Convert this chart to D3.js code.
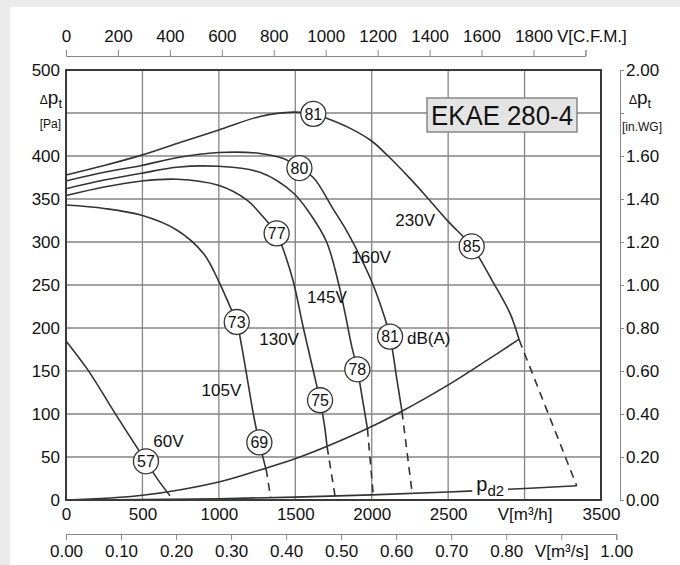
<!DOCTYPE html>
<html><head><meta charset="utf-8">
<script src="https://cdn.jsdelivr.net/npm/d3@7"></script>
<style>
body{margin:0;background:#ebebeb}
text{font-family:'Liberation Sans',Arial,Helvetica,sans-serif;fill:#111}
</style>
</head><body><svg id="c" width="680" height="565"></svg>
<script>
// ---------- data ----------
// fan curves: [flow m3/h, total pressure Pa]
const curve230 = [[0,378],[250,389],[495,401],[750,416],[995,430],[1270,446],[1487,451],[1618,449],[1705,444],[1850,433],[1995,418],[2107,400],[2250,374],[2337,357],[2500,324],[2654,295],[2785,256],[2905,217],[2965,186]];
const curve160 = [[0,371],[250,381],[495,389],[724,398],[997,404],[1269,403],[1422,397],[1527,386],[1618,375],[1749,338],[1836,313],[1902,291],[2000,254],[2076,217],[2120,190],[2163,142],[2198,103]];
const curve145 = [[0,362],[250,372],[495,380],[724,387],[997,388],[1269,381],[1487,357],[1600,332],[1705,300],[1780,254],[1828,215],[1870,178],[1906,152],[1937,120],[1972,83]];
const curve130 = [[0,354],[250,364],[495,371],[724,373],[997,366],[1182,349],[1291,329],[1378,310],[1422,291],[1487,254],[1553,200],[1618,150],[1662,116],[1690,88],[1708,62]];
const curve105 = [[0,343],[250,339],[495,331],[724,314],[898,287],[1000,254],[1073,225],[1117,207],[1150,178],[1187,140],[1233,93],[1265,67],[1309,35]];
const curve60  = [[0,185],[144,151],[320,101],[523,45],[600,24],[680,5]];
// dashed continuations down to the pd2 line
const dash230 = [[2965,186],[3341,16.6]];
const dash160 = [[2198,103],[2265,7.6]];
const dash145 = [[1972,83],[2010,6]];
const dash130 = [[1708,62],[1760,4.6]];
const dash105 = [[1309,36],[1339,2.7]];
// system (installation) curve and dynamic pressure pd2
const systemCurve = [[0,0],[500,5.5],[1000,21],[1269,35],[1531,50],[1923,79],[2185,102],[2512,135],[2750,162],[2965,187]];
const pd2Curve = [[0,0],[500,0.4],[1000,1.5],[1500,3.4],[2000,6],[2500,9.3],[3000,13.4],[3341,16.6]];
// sound level markers [flow, pressure, dB(A)]
const noiseMarks = [[1618,449,"81"],[2654,295,"85"],[1527,386,"80"],[2120,190,"81"],[1906,152,"78"],[1378,310,"77"],[1662,116,"75"],[1117,207,"73"],[1265,67,"69"],[523,45,"57"]];
// voltage labels [text, flow, pressure] (centre)
const voltLabels = [["230V",2284,326],["160V",1996,283],["145V",1707,236],["130V",1394,187],["105V",1017,128],["60V",670,69]];
const dbaLabel = ["dB(A)",2231,189];
const pd2Label = [2775,11];
// axes ticks
const flowTicks = [0,500,1000,1500,2000,2500,3000,3500];
const pressTicks = [0,50,100,150,200,250,300,350,400,500];
const gridFlow = [500,1000,1500,2000,2500,3000];
const gridPress = [50,100,150,200,250,300,350,400,450];
const cfmTicks = [0,200,400,600,800,1000,1200,1400,1600,1800,2000];
const m3sTicks = [0,0.1,0.2,0.3,0.4,0.5,0.6,0.7,0.8,0.9,1.0];
const inwgTicks = [0,0.2,0.4,0.6,0.8,1.0,1.2,1.4,1.6,1.8,2.0];
const title = "EKAE 280-4";
const CFM_M3H = 1.699;

// ---------- drawing ----------
const svg = d3.select("#c");
svg.append("rect").attr("x",10).attr("y",7).attr("width",670).attr("height",558).attr("fill","#fff");

const x = d3.scaleLinear().domain([0,3500]).range([66,601]);
const y = d3.scaleLinear().domain([0,500]).range([500,70]);
const xCfm = d3.scaleLinear().domain([0,2000]).range([x(0), x(2000*CFM_M3H)]);
const xM3s = d3.scaleLinear().domain([0,1]).range([x(0), x(3600)]);
const yIn = d3.scaleLinear().domain([0,2]).range([y(0), y(500)]);
const FS = 17;

// grid
const grid = svg.append("g").attr("stroke","#858585").attr("stroke-width",1.3);
grid.selectAll("line.v").data(gridFlow).join("line")
  .attr("x1",d=>x(d)).attr("x2",d=>x(d)).attr("y1",y(0)).attr("y2",y(500));
grid.selectAll("line.h").data(gridPress).join("line").attr("class","h")
  .attr("x1",x(0)).attr("x2",x(3500)).attr("y1",d=>y(d)).attr("y2",d=>y(d));

const lineGen = d3.line().x(d=>x(d[0])).y(d=>y(d[1])).curve(d3.curveCatmullRom.alpha(0.5));
const curves = svg.append("g").attr("fill","none").attr("stroke","#333").attr("stroke-width",1.6);
[curve230,curve160,curve145,curve130,curve105,curve60,systemCurve,pd2Curve].forEach(c=>{
  curves.append("path").attr("d",lineGen(c));
});
[dash230,dash160,dash145,dash130,dash105].forEach(c=>{
  curves.append("path").attr("d",lineGen(c)).attr("stroke-dasharray","8,6");
});

// frame
svg.append("rect").attr("x",x(0)).attr("y",y(500)).attr("width",x(3500)-x(0)).attr("height",y(0)-y(500))
  .attr("fill","none").attr("stroke","#3a3a3a").attr("stroke-width",2);

function styleAxis(g, keepDomain){
  g.selectAll("text").attr("font-size",FS).attr("fill","#111")
   .style("font-family","'Liberation Sans',Arial,sans-serif");
  g.selectAll("line").attr("stroke","#888");
  if(keepDomain) g.select(".domain").attr("stroke","#888"); else g.select(".domain").remove();
}
// top CFM axis
const gTop = svg.append("g").attr("transform","translate(0,56)")
  .call(d3.axisTop(xCfm).tickValues(cfmTicks).tickSize(6).tickPadding(8)
    .tickFormat(d=>d===2000?"V[C.F.M.]":String(d)));
styleAxis(gTop,true);
gTop.selectAll(".tick text").filter(d=>d===2000).attr("text-anchor","start").attr("x",-29);
// bottom m3/h labels
const gB = svg.append("g").attr("transform",`translate(0,${y(0)})`)
  .call(d3.axisBottom(x).tickValues(flowTicks).tickSize(0).tickPadding(8)
    .tickFormat(d=>d===3000?"V[m³/h]":String(d)));
styleAxis(gB,false);
// left Pa labels
const gL = svg.append("g").attr("transform",`translate(${x(0)},0)`)
  .call(d3.axisLeft(y).tickValues(pressTicks).tickSize(0).tickPadding(6));
styleAxis(gL,false);
// bottom m3/s axis
const gS = svg.append("g").attr("transform","translate(0,534)")
  .call(d3.axisBottom(xM3s).tickValues(m3sTicks).tickSize(6).tickPadding(5)
    .tickFormat(d=>Math.abs(d-0.9)<1e-6?"V[m³/s]":d.toFixed(2)));
styleAxis(gS,true);
// right in.WG axis
const gR = svg.append("g").attr("transform","translate(620,0)")
  .call(d3.axisRight(yIn).tickValues(inwgTicks).tickSize(4).tickPadding(2)
    .tickFormat(d=>Math.abs(d-1.8)<1e-6?"":d.toFixed(2)));
styleAxis(gR,true);

// unit labels
function dpLabel(xr, yb, anchor){
  const t = svg.append("text").attr("x",xr).attr("y",yb).attr("text-anchor",anchor);
  t.append("tspan").attr("font-size",12).text("Δ");
  t.append("tspan").attr("font-size",19).text("p");
  t.append("tspan").attr("font-size",13).attr("dy",4).text("t");
}
dpLabel(62,104,"end");
svg.append("text").attr("x",61).attr("y",128).attr("text-anchor","end").attr("font-size",12).text("[Pa]");
dpLabel(629,104,"start");
svg.append("text").attr("x",622).attr("y",131).attr("font-size",12).text("[in.WG]");

// voltage labels
svg.append("g").selectAll("text").data(voltLabels).join("text")
  .attr("x",d=>x(d[1])).attr("y",d=>y(d[2])).attr("dy","0.36em").attr("text-anchor","middle")
  .attr("font-size",FS).text(d=>d[0]);
svg.append("text").attr("x",x(dbaLabel[1])).attr("y",y(dbaLabel[2])).attr("dy","0.36em")
  .attr("font-size",FS).text(dbaLabel[0]);

// pd2 label with gap in the line
const pg = svg.append("g");
const pt = pg.append("text").attr("x",x(pd2Label[0])).attr("y",y(pd2Label[1])).attr("text-anchor","middle");
pt.append("tspan").attr("font-size",20).text("p");
pt.append("tspan").attr("font-size",15).attr("dy",5).text("d2");
const bb = pt.node().getBBox();
pg.insert("rect","text").attr("x",bb.x-4).attr("y",bb.y+4).attr("width",bb.width+8).attr("height",bb.height-4).attr("fill","#fff");

// sound markers
const mk = svg.append("g").selectAll("g").data(noiseMarks).join("g")
  .attr("transform",d=>`translate(${x(d[0])},${y(d[1])})`);
mk.append("circle").attr("r",12.5).attr("fill","#fff").attr("stroke","#333").attr("stroke-width",1.3);
mk.append("text").attr("text-anchor","middle").attr("dy","0.36em").attr("font-size",16).text(d=>d[2]);

// title box
const tb = svg.append("g");
tb.append("rect").attr("x",427).attr("y",98).attr("width",150).attr("height",34)
  .attr("fill","#e4e4e4").attr("stroke","#777").attr("stroke-width",1.3);
tb.append("text").attr("x",502).attr("y",115).attr("dy","0.36em").attr("text-anchor","middle")
  .attr("font-size",27).attr("textLength",142).attr("lengthAdjust","spacingAndGlyphs").text(title);
</script>
</body></html>
